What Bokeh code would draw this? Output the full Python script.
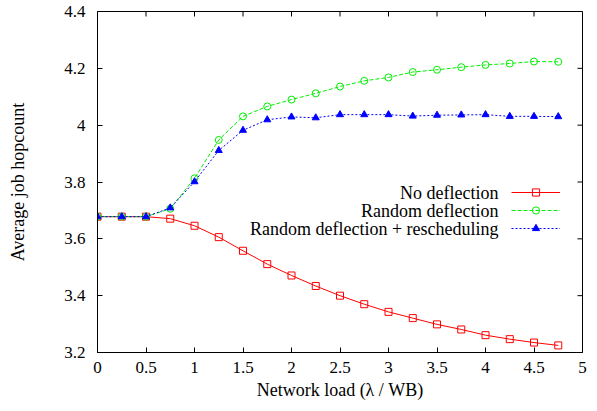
import math
from bokeh.plotting import figure
from bokeh.models import Range1d, FixedTicker, Legend, LegendItem, Label
from bokeh.core.properties import value
from bokeh.embed import file_html
from bokeh.resources import INLINE

# ---- data ----
load = [0, 0.25, 0.5, 0.75, 1, 1.25, 1.5, 1.75, 2, 2.25, 2.5, 2.75, 3, 3.25, 3.5, 3.75, 4, 4.25, 4.5, 4.75]
no_deflection = [3.678, 3.678, 3.678, 3.671, 3.646, 3.606, 3.558, 3.511, 3.471, 3.434,
                 3.400, 3.370, 3.343, 3.321, 3.299, 3.281, 3.261, 3.247, 3.235, 3.225]
random_deflection = [3.678, 3.678, 3.678, 3.706, 3.813, 3.948, 4.031, 4.066, 4.090, 4.112,
                     4.136, 4.156, 4.168, 4.187, 4.195, 4.204, 4.212, 4.217, 4.224, 4.223]
random_resched = [3.678, 3.678, 3.678, 3.709, 3.801, 3.911, 3.982, 4.019, 4.029, 4.026,
                  4.037, 4.037, 4.037, 4.032, 4.035, 4.036, 4.037, 4.031, 4.031, 4.030]

series_names = ["No deflection", "Random deflection", "Random deflection + rescheduling"]

x_ticks = [0, 0.5, 1, 1.5, 2, 2.5, 3, 3.5, 4, 4.5, 5]
x_tick_labels = ["0", "0.5", "1", "1.5", "2", "2.5", "3", "3.5", "4", "4.5", "5"]
y_ticks = [3.2, 3.4, 3.6, 3.8, 4.0, 4.2, 4.4]
y_tick_labels = ["3.2", "3.4", "3.6", "3.8", "4", "4.2", "4.4"]

X_MIN, X_MAX = 0, 5
Y_MIN, Y_MAX = 3.2, 4.4

FONT = "Liberation Serif"
RED, GREEN, BLUE = "#ff0000", "#00ee00", "#0000ff"

p = figure(width=589, height=403, output_backend="svg", toolbar_location=None,
           x_range=Range1d(X_MIN, X_MAX), y_range=Range1d(Y_MIN, Y_MAX),
           min_border_left=97, min_border_right=7, min_border_top=11, min_border_bottom=51)
p.grid.visible = False
p.outline_line_color = "black"
p.outline_line_width = 1
p.background_fill_color = "white"
p.border_fill_color = "white"

def style_axis(ax, ticks, labels):
    ax.ticker = FixedTicker(ticks=ticks)
    ax.major_label_overrides = {t: l for t, l in zip(ticks, labels)}
    ax.major_tick_in = 5
    ax.major_tick_out = 0
    ax.minor_tick_in = 0
    ax.minor_tick_out = 0
    ax.axis_line_color = "black"
    ax.major_tick_line_color = "black"
    ax.major_label_text_font = FONT
    ax.major_label_text_color = "black"
    ax.major_label_text_font_size = "17px"
    ax.axis_label_text_font = FONT
    ax.axis_label_text_font_size = "18px"
    ax.axis_label_text_font_style = "normal"
    ax.axis_label_text_color = "black"

style_axis(p.xaxis[0], x_ticks, x_tick_labels)
style_axis(p.yaxis[0], y_ticks, y_tick_labels)
p.xaxis[0].major_label_standoff = 9
p.yaxis[0].major_label_standoff = 12
p.xaxis[0].axis_label = "Network load (λ / WB)"
p.yaxis[0].axis_label = "Average job hopcount"
p.xaxis[0].axis_label_standoff = 4
p.yaxis[0].axis_label_standoff = 33

# mirrored inward ticks on top and right edges (gnuplot style)
p.ray(x=x_ticks, y=[Y_MAX] * len(x_ticks), length=5, length_units="screen",
      angle=-math.pi / 2, line_color="black", line_width=1)
p.ray(x=[X_MAX] * len(y_ticks), y=y_ticks, length=5, length_units="screen",
      angle=math.pi, line_color="black", line_width=1)

# ---- series ----
r_line = p.line(load, no_deflection, line_color=RED, line_width=1)
r_mark = p.scatter(load, no_deflection, marker="square", size=7, line_color=RED,
                   fill_color=None, line_width=1)
g_line = p.line(load, random_deflection, line_color=GREEN, line_width=1, line_dash="4 2")
g_mark = p.scatter(load, random_deflection, marker="circle", size=7, line_color=GREEN,
                   fill_color=None, line_width=1)
b_line = p.line(load, random_resched, line_color=BLUE, line_width=1, line_dash="2 2")
b_mark = p.scatter(load, random_resched, marker="triangle", size=7, line_color=BLUE,
                   fill_color=BLUE, line_width=1)

# ---- legend (gnuplot style: text left, sample right) ----
legend = Legend(items=[
    LegendItem(label=value(" "), renderers=[r_line, r_mark]),
    LegendItem(label=value(" "), renderers=[g_line, g_mark]),
    LegendItem(label=value(" "), renderers=[b_line, b_mark]),
], location=(414, 115), glyph_width=49, glyph_height=18, label_height=18,
    label_width=0, label_standoff=0, spacing=0, padding=0,
    label_text_font_size="10px", border_line_color=None, background_fill_alpha=0)
p.add_layout(legend, "center")

row_y = [160, 142, 124]
for name, ry in zip(series_names, row_y):
    p.add_layout(Label(x=401, y=ry, x_units="screen", y_units="screen", text=name,
                       text_align="right", text_baseline="middle",
                       text_font=FONT, text_font_size="18px", text_color="black"))

open("out.html", "w").write(file_html(p, INLINE))
